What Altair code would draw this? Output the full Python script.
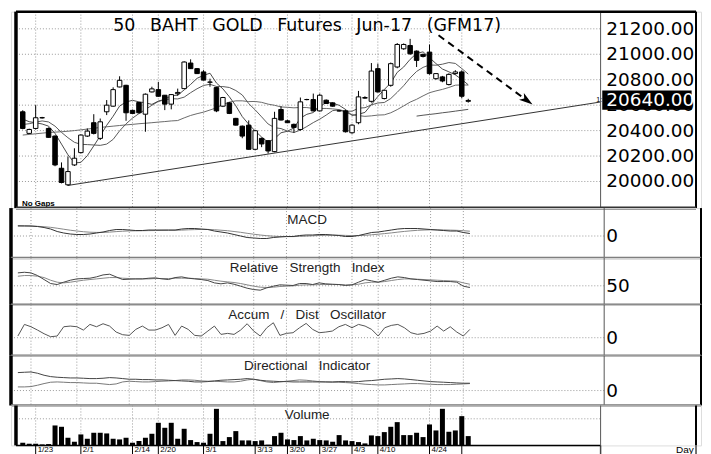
import altair as alt
import pandas as pd

# ---------------- data ----------------
dates = ["1/19", "1/20", "1/23", "1/24", "1/25", "1/26", "1/27", "1/30", "1/31",
         "2/1", "2/2", "2/3", "2/6", "2/7", "2/8", "2/9", "2/10", "2/14", "2/15", "2/16",
         "2/17", "2/20", "2/21", "2/22", "2/23", "2/24", "2/27", "2/28",
         "3/1", "3/2", "3/3", "3/6", "3/7", "3/8", "3/9", "3/10", "3/13", "3/14", "3/15",
         "3/16", "3/17", "3/20", "3/21", "3/22", "3/23", "3/24", "3/27", "3/28", "3/29",
         "3/30", "3/31",
         "4/3", "4/4", "4/5", "4/7", "4/10", "4/11", "4/12", "4/17", "4/18", "4/19", "4/20",
         "4/21", "4/24", "4/25", "4/26", "4/27", "4/28",
         "5/1", "5/2"]

opens = [20548, 20378, 20417, 20500, 20417, 20357, 20104, 19974, 20130, 20227,
         20357, 20462, 20339, 20548, 20592, 20743, 20756, 20559, 20621, 20529,
         20704, 20722, 20678, 20608, 20690, 20730, 20931, 20887, 20861, 20780,
         20738, 20592, 20618, 20496, 20435, 20443, 20253, 20339, 20321, 20235,
         20566, 20477, 20449, 20409, 20644, 20644, 20555, 20639, 20618, 20555,
         20555, 20383, 20462, 20655, 20630, 20887, 20652, 20756, 20900, 21043,
         21069, 21025, 20999, 21017, 20808, 20822, 20762, 20848, 20861, 20630]
highs = [20560, 20415, 20600, 20508, 20425, 20362, 20150, 20196, 20261, 20370,
         20417, 20529, 20495, 20640, 20740, 20827, 20760, 20565, 20625, 20692,
         20745, 20782, 20680, 20687, 20730, 20945, 20960, 20892, 20875, 20808,
         20745, 20665, 20625, 20500, 20440, 20480, 20405, 20345, 20325, 20548,
         20592, 20485, 20455, 20660, 20650, 20691, 20690, 20645, 20622, 20560,
         20565, 20450, 20712, 20670, 20931, 20926, 20720, 20935, 21088, 21085,
         21121, 21030, 21005, 21077, 20852, 20830, 20850, 20875, 20874, 20650]
lows = [20410, 20372, 20409, 20495, 20345, 20120, 19985, 19965, 20122, 20220,
        20350, 20370, 20326, 20522, 20588, 20740, 20477, 20530, 20535, 20391,
        20700, 20666, 20561, 20567, 20675, 20728, 20885, 20845, 20795, 20745,
        20545, 20585, 20530, 20440, 20340, 20250, 20245, 20270, 20220, 20230,
        20480, 20460, 20383, 20400, 20638, 20550, 20550, 20610, 20588, 20550,
        20385, 20375, 20450, 20650, 20620, 20700, 20645, 20745, 20890, 21035,
        20995, 20900, 20975, 20840, 20800, 20780, 20755, 20840, 20655, 20620]
closes = [20417, 20409, 20501, 20502, 20347, 20130, 19992, 20078, 20183, 20365,
          20396, 20378, 20469, 20600, 20722, 20795, 20540, 20535, 20540, 20686,
          20728, 20670, 20608, 20683, 20700, 20939, 20887, 20848, 20797, 20782,
          20555, 20660, 20535, 20443, 20357, 20253, 20399, 20295, 20240, 20496,
          20483, 20462, 20425, 20626, 20644, 20555, 20678, 20613, 20592, 20555,
          20391, 20443, 20665, 20660, 20868, 20704, 20717, 20926, 21077, 21077,
          21004, 20952, 20983, 20848, 20848, 20790, 20842, 20861, 20670, 20637]

ma_short = [20490, 20470, 20462, 20452, 20435, 20378, 20294, 20210, 20146, 20150,
            20203, 20280, 20358, 20442, 20513, 20593, 20625, 20638, 20626, 20619,
            20606, 20632, 20646, 20675, 20678, 20720, 20763, 20811, 20834, 20851,
            20774, 20728, 20666, 20595, 20510, 20450, 20397, 20349, 20309, 20337,
            20383, 20395, 20421, 20498, 20528, 20542, 20586, 20623, 20616, 20599,
            20566, 20519, 20529, 20543, 20605, 20668, 20723, 20775, 20858, 20900,
            20960, 21007, 21019, 20973, 20927, 20884, 20862, 20838, 20802, 20760]
ma_mid = [20448, 20454, 20466, 20476, 20468, 20435, 20386, 20344, 20308, 20292,
          20290, 20287, 20284, 20294, 20331, 20398, 20453, 20498, 20534, 20566,
          20599, 20629, 20642, 20651, 20649, 20663, 20698, 20729, 20755, 20764,
          20747, 20746, 20739, 20715, 20680, 20612, 20563, 20508, 20452, 20423,
          20416, 20396, 20385, 20404, 20432, 20463, 20490, 20522, 20557, 20563,
          20554, 20552, 20576, 20580, 20602, 20617, 20621, 20652, 20701, 20753,
          20814, 20865, 20897, 20916, 20914, 20922, 20935, 20928, 20888, 20844]
ma_long = [20365, 20370, 20375, 20380, 20385, 20388, 20391, 20395, 20400, 20406,
           20412, 20418, 20425, 20430, 20435, 20440, 20445, 20449, 20454, 20458,
           20462, 20467, 20471, 20476, 20479, 20500, 20519, 20533, 20545, 20562,
           20579, 20606, 20624, 20634, 20634, 20628, 20629, 20622, 20608, 20599,
           20586, 20583, 20579, 20582, 20581, 20574, 20574, 20574, 20571, 20565,
           20543, 20525, 20518, 20512, 20516, 20522, 20524, 20540, 20565, 20594,
           20624, 20646, 20673, 20698, 20712, 20724, 20739, 20757, 20759, 20758]
ma_extra_dates = ["4/20", "4/21", "4/24", "4/25", "4/26", "4/27", "4/28", "5/1", "5/2"]
ma_extra = [20514, 20521, 20527, 20533, 20540, 20546, 20553, 20560, 20567]

volume = [80, 50, 50, 30, 40, 600, 560, 230, 110, 330,
          200, 380, 380, 360, 200, 180, 230, 80, 130, 230,
          350, 680, 530, 680, 200, 500, 160, 100, 80, 350,
          1100, 130, 250, 430, 150, 150, 130, 150, 20, 280,
          380, 180, 160, 280, 150, 200, 160, 150, 110, 310,
          150, 130, 100, 60, 300, 280, 400, 560, 700, 310,
          310, 380, 250, 630, 450, 1100, 410, 450, 880, 280]

macd = [100, 100, 100, 95, 85, 70, 45, 30, 20, 15,
        15, 20, 30, 40, 55, 65, 65, 60, 55, 55,
        60, 60, 60, 60, 60, 70, 75, 75, 70, 65,
        50, 40, 30, 15, 0, -15, -20, -25, -25, -15,
        -10, -5, -5, 5, 10, 10, 15, 15, 10, 5,
        -5, -5, 5, 20, 35, 40, 50, 60, 70, 75,
        75, 75, 70, 65, 60, 55, 50, 50, 35, 25]
macd_signal = [105, 103, 100, 97, 93, 87, 78, 68, 58, 50,
               43, 38, 36, 36, 39, 44, 48, 51, 52, 53,
               54, 55, 56, 57, 57, 59, 62, 64, 66, 66,
               63, 58, 53, 45, 37, 27, 18, 10, 3, -2,
               -5, -6, -6, -4, -1, 2, 5, 7, 8, 8,
               6, 4, 4, 7, 12, 18, 24, 31, 39, 46,
               52, 57, 60, 62, 62, 61, 59, 57, 53, 48]

rsi = [70.4, 71.4, 70.4, 66.2, 59.9, 53.6, 52.0, 55.7, 58.8, 60.9,
       61.5, 62.0, 64.1, 67.2, 68.3, 64.1, 59.9, 60.4, 60.9, 60.9,
       62.0, 62.5, 60.9, 59.9, 63.0, 64.1, 62.0, 60.9, 59.9, 58.3,
       54.6, 53.1, 54.6, 52.5, 49.4, 46.2, 44.1, 43.1, 46.8, 49.4,
       51.5, 51.0, 50.5, 53.6, 53.6, 52.0, 54.6, 53.1, 52.5, 52.0,
       50.5, 51.5, 55.7, 59.9, 57.8, 55.7, 58.8, 62.0, 64.1, 63.0,
       60.9, 59.9, 58.8, 57.8, 56.7, 56.7, 56.7, 55.7, 49.4, 47.3]
rsi_avg = [65.1, 66.2, 66.2, 65.1, 63.0, 58.8, 55.7, 54.6, 55.7, 57.3,
           58.8, 59.9, 60.9, 62.0, 63.0, 63.0, 62.0, 61.5, 60.9, 60.9,
           60.9, 61.5, 61.5, 61.5, 62.0, 62.0, 62.0, 61.5, 60.9, 60.4,
           58.8, 57.3, 56.2, 55.2, 53.6, 51.5, 49.4, 47.8, 47.3, 47.8,
           48.9, 49.4, 49.9, 51.0, 51.5, 51.5, 52.0, 52.0, 52.0, 52.0,
           51.5, 51.5, 52.5, 54.6, 55.7, 55.7, 56.7, 58.3, 59.9, 60.9,
           60.9, 60.4, 59.9, 59.4, 58.8, 58.3, 57.8, 57.3, 54.6, 52.5]

ad_osc = [10, 80, 66, 46, 24, 6, 10, 66, 70, 66,
          46, 80, 66, 84, 70, 34, 18, 14, 50, 70,
          46, 46, 60, 80, 14, 70, 50, 14, 10, 40,
          70, 20, 26, 20, 46, 84, 40, 10, 60, 90,
          14, 26, 30, 60, 86, 50, 30, 34, 40, 66,
          80, 60, 80, 70, 50, 10, 60, 74, 80, 60,
          30, 20, 26, 40, 70, 40, 66, 34, 10, 50]

di_upper = [36, 36.7, 37.3, 34.7, 30.7, 28, 26.7, 26, 25.3, 25.3,
            24.7, 24, 24, 24.7, 26, 25.3, 24, 22.7, 22.7, 22,
            22, 21.3, 21.3, 20.7, 20, 19.3, 18.7, 17.3, 17.3, 18,
            19.3, 20.7, 21.3, 22, 22.7, 24, 22.7, 20.7, 19.3, 18.7,
            18, 18, 17.3, 17.3, 17.3, 17.3, 17.3, 17.3, 17.3, 18,
            18, 17.3, 18, 19.3, 20, 21.3, 22.7, 23.3, 24, 23.3,
            22, 20.7, 19.3, 18, 17.3, 16.7, 16, 15.3, 14.7, 14.7]
di_lower = [7.3, 7.3, 8, 10.7, 14, 16.7, 17.3, 16.7, 16, 16,
            15.3, 14.7, 14.7, 13.3, 12, 13.3, 17.3, 18.7, 18, 17.3,
            17.3, 18, 18.7, 19.3, 20, 21.3, 21.3, 20.7, 19.3, 18.7,
            18.7, 18, 17.3, 17.3, 18.7, 21.3, 22.7, 20, 17.3, 16,
            17.3, 18.7, 20, 21.3, 20.7, 19.3, 18, 17.3, 16.7, 16.7,
            16, 15.3, 14, 12.7, 12, 11.3, 11.3, 12, 12.7, 13.3,
            14, 14, 13.3, 12.7, 12, 12, 12, 12.7, 13.3, 14]

price_ticks = [20000, 20200, 20400, 20600, 20800, 21000, 21200]
last_price = 20640
tick_dates = ["1/23", "2/1", "2/14", "2/20", "3/1", "3/13", "3/20", "3/27", "4/3", "4/10", "4/24"]
grid_dates = tick_dates + ["5/1"]
month_names = ["Jan", "Feb", "Mar", "Apr", "May"]
month_first = ["1/19", "2/1", "3/1", "4/3", "5/1"]
trend_days = [7, 89.5]
trend_prices = [19969, 20625]
arrow_days = [64.4, 78.1]
arrow_prices = [21149, 20637]

title_words = ["50", "BAHT", "GOLD", "Futures", "Jun-17", "(GFM17)"]

# ---------------- layout constants ----------------
W = 692
H_PRICE, H_MACD, H_RSI, H_AD, H_DI, H_VOL = 197, 50, 47, 51, 50, 40
X_LEFT, X_AXIS, X_RIGHT = -1.05, 89.5, 104.28
LABEL_X = 597
LABEL_FONT = "DejaVu Sans"
PANEL_FONT = "Liberation Sans"

day_of = {d: i for i, d in enumerate(dates)}
df = pd.DataFrame({
    "day": list(range(len(dates))), "date": dates,
    "open": opens, "high": highs, "low": lows, "close": closes,
    "ma_short": ma_short, "ma_mid": ma_mid, "ma_long": ma_long,
    "volume": volume, "macd": macd, "macd_signal": macd_signal,
    "rsi": rsi, "rsi_avg": rsi_avg, "ad": ad_osc,
    "di_up": di_upper, "di_down": di_lower,
})
df["dir"] = ["up" if c >= o else "down" for o, c in zip(opens, closes)]

xs = alt.Scale(domain=[X_LEFT, X_RIGHT], nice=False, zero=False)


def xenc(field="day"):
    return alt.X(f"{field}:Q", scale=xs, axis=None)


GRID = dict(color="#9a9a9a", strokeDash=[1, 2], strokeWidth=1)

vgrid_df = pd.DataFrame({"day": [day_of[d] for d in grid_dates]})


def vgrid():
    return alt.Chart(vgrid_df).mark_rule(**GRID).encode(x=xenc())


def hgrid(values, ys):
    d = pd.DataFrame({"v": values, "x0": X_LEFT, "x1": X_AXIS})
    return alt.Chart(d).mark_rule(**GRID).encode(
        x=alt.X("x0:Q", scale=xs, axis=None), x2="x1:Q",
        y=alt.Y("v:Q", scale=ys, axis=None))


def scale_labels(values, ys, fmt):
    d = pd.DataFrame({"v": values, "t": [format(v, fmt) for v in values]})
    return alt.Chart(d).mark_text(font=LABEL_FONT, fontSize=18.5, color="black",
                                  align="left", baseline="middle").encode(
        x=alt.value(LABEL_X), y=alt.Y("v:Q", scale=ys, axis=None), text="t:N")


def frame(h, bottom_color="#777", bottom_width=2.5, top=False):
    """Panel borders: left thick edge, price-scale separator, right edge and bottom separator."""
    layers = [
        alt.Chart(pd.DataFrame({"day": [X_AXIS]})).mark_rule(color="#555", strokeWidth=1).encode(x=xenc()),
        alt.Chart(pd.DataFrame({"day": [X_RIGHT]})).mark_rule(color="black", strokeWidth=2).encode(x=xenc()),
        alt.Chart(pd.DataFrame({"day": [X_LEFT]})).mark_rule(color="black", strokeWidth=3.5).encode(x=xenc()),
        alt.Chart(pd.DataFrame({"day": [X_LEFT], "end": [X_RIGHT]})).mark_rule(
            color=bottom_color, strokeWidth=bottom_width).encode(
            x=xenc(), x2="end:Q", y=alt.value(h)),
    ]
    if top:
        layers.append(
            alt.Chart(pd.DataFrame({"day": [X_LEFT], "end": [X_RIGHT]})).mark_rule(
                color="black", strokeWidth=2.5).encode(x=xenc(), x2="end:Q", y=alt.value(0)))
    return layers


def line(field, ys, color, data=None, width=1, **kw):
    return alt.Chart(df if data is None else data).mark_line(
        color=color, strokeWidth=width, **kw).encode(
        x=xenc(), y=alt.Y(f"{field}:Q", scale=ys, axis=None))


def label(text, x, y, **kw):
    return alt.Chart(pd.DataFrame({"t": [text]})).mark_text(**kw).encode(
        text="t:N", x=alt.value(x), y=alt.value(y))


def panel_title(text, y):
    return label(text, 297, y, font=PANEL_FONT, fontSize=13.5, color="#222",
                 align="center", baseline="alphabetic")


# ---------------- price panel ----------------
ys_price = alt.Scale(domain=[19791, 21335], nice=False, zero=False)

wick = alt.Chart(df).mark_rule(color="black", strokeWidth=1).encode(
    x=xenc(), y=alt.Y("low:Q", scale=ys_price, axis=None), y2="high:Q")
body = alt.Chart(df).mark_bar(size=4.5, stroke="black", strokeWidth=1).encode(
    x=xenc(), y=alt.Y("open:Q", scale=ys_price, axis=None), y2="close:Q",
    fill=alt.Fill("dir:N", scale=alt.Scale(domain=["up", "down"], range=["white", "black"]), legend=None))

extra_df = pd.DataFrame({"day": [day_of[d] for d in ma_extra_dates], "v": ma_extra})
trend_df = pd.DataFrame({"day": trend_days, "v": trend_prices})
arrow_df = pd.DataFrame({"day": arrow_days, "v": arrow_prices})
arrow_line = alt.Chart(arrow_df).mark_line(color="black", strokeWidth=2, strokeDash=[7, 5]).encode(
    x=xenc(), y=alt.Y("v:Q", scale=ys_price, axis=None))
arrow_head = alt.Chart(arrow_df.tail(1)).mark_point(
    shape="M0,-1L0.6,1L0,0.5L-0.6,1Z", angle=126, size=190, filled=True, color="black", opacity=1).encode(
    x=xenc(), y=alt.Y("v:Q", scale=ys_price, axis=None))

last_df = pd.DataFrame({"x0": [89.76], "x1": [103.6], "p0": [last_price - 76], "p1": [last_price + 76],
                        "p": [last_price], "t": [f"{last_price:.2f}"]})
last_box = alt.Chart(last_df).mark_rect(color="black").encode(
    x=alt.X("x0:Q", scale=xs, axis=None), x2="x1:Q",
    y=alt.Y("p0:Q", scale=ys_price, axis=None), y2="p1:Q")
last_text = alt.Chart(last_df).mark_text(color="white", font=LABEL_FONT, fontSize=18.5,
                                         align="left", baseline="middle").encode(
    x=alt.value(LABEL_X), y=alt.Y("p:Q", scale=ys_price, axis=None), text="t:N")

SEP = "\u00a0\u00a0\u2009"
price_panel = alt.layer(
    vgrid(),
    hgrid(price_ticks, ys_price),
    scale_labels(price_ticks, ys_price, ".2f"),
    line("v", ys_price, "#333", data=trend_df),
    line("ma_long", ys_price, "#6a6a6a"),
    line("ma_mid", ys_price, "#5a5a5a"),
    line("ma_short", ys_price, "#4a4a4a"),
    line("v", ys_price, "#555", data=extra_df),
    wick, body,
    arrow_line, arrow_head,
    last_box, last_text,
    label(SEP.join(title_words), 297, 19, font=LABEL_FONT, fontSize=17.5, color="black",
          align="center", baseline="alphabetic"),
    label("No Gaps", 11, 195, font=PANEL_FONT, fontSize=8, fontWeight="bold", color="black",
          align="left", baseline="alphabetic"),
    label("1:", 587, 89, font=PANEL_FONT, fontSize=7, color="black", align="left", baseline="middle"),
    *frame(H_PRICE, bottom_color="#333", bottom_width=3, top=True),
).properties(width=W, height=H_PRICE)

# ---------------- MACD ----------------
ys_macd = alt.Scale(domain=[-220, 280], nice=False, zero=False)
macd_panel = alt.layer(
    vgrid(),
    hgrid([0], ys_macd),
    scale_labels([0], ys_macd, "d"),
    line("macd_signal", ys_macd, "#888"),
    line("macd", ys_macd, "#333"),
    panel_title("MACD", 16),
    *frame(H_MACD),
).properties(width=W, height=H_MACD)

# ---------------- RSI ----------------
ys_rsi = alt.Scale(domain=[20, 94], nice=False, zero=False)
NB = "\u00a0\u00a0\u00a0"
rsi_panel = alt.layer(
    vgrid(),
    hgrid([50], ys_rsi),
    scale_labels([50], ys_rsi, "d"),
    line("rsi_avg", ys_rsi, "#888"),
    line("rsi", ys_rsi, "#444"),
    panel_title(NB.join(["Relative", "Strength", "Index"]), 14),
    *frame(H_RSI),
).properties(width=W, height=H_RSI)

# ---------------- A/D oscillator ----------------
ys_ad = alt.Scale(domain=[-108, 198], nice=False, zero=False)
ad_panel = alt.layer(
    vgrid(),
    hgrid([0], ys_ad),
    scale_labels([0], ys_ad, "d"),
    line("ad", ys_ad, "#555"),
    panel_title(NB.join(["Accum", "/", "Dist", "Oscillator"]), 14.5),
    *frame(H_AD),
).properties(width=W, height=H_AD)

# ---------------- Directional indicator ----------------
ys_di = alt.Scale(domain=[-30, 70], nice=False, zero=False)
di_panel = alt.layer(
    vgrid(),
    hgrid([0], ys_di),
    scale_labels([0], ys_di, "d"),
    line("di_down", ys_di, "#777"),
    line("di_up", ys_di, "#444"),
    panel_title(NB.join(["Directional", "Indicator"]), 14),
    *frame(H_DI),
).properties(width=W, height=H_DI)

# ---------------- Volume ----------------
ys_vol = alt.Scale(domain=[0, 1200], nice=False, zero=True)
ticks_df = pd.DataFrame({"day": [day_of[d] for d in tick_dates], "t": tick_dates})
month_df = pd.DataFrame({"day": [day_of[d] for d in month_first], "t": month_names})
tick_rules_df = pd.DataFrame({"day": [day_of[d] for d in grid_dates]})

vol_bars = alt.Chart(df).mark_bar(size=5, color="black").encode(
    x=xenc(), y=alt.Y("volume:Q", scale=ys_vol, axis=None))
tick_rules = alt.Chart(tick_rules_df).mark_rule(color="black", strokeWidth=1).encode(
    x=xenc(), y=alt.value(H_VOL), y2=alt.value(H_VOL + 14))
tick_text = alt.Chart(ticks_df).mark_text(align="left", baseline="top", dx=2, fontSize=8,
                                          font=PANEL_FONT, color="black").encode(
    x=xenc(), y=alt.value(H_VOL + 1), text="t:N")
month_text = alt.Chart(month_df).mark_text(align="left", baseline="top", dx=2, fontSize=8,
                                           font=PANEL_FONT, color="black").encode(
    x=xenc(), y=alt.value(H_VOL + 10), text="t:N")
right_ext = alt.Chart(pd.DataFrame({"day": [X_AXIS, X_RIGHT]})).mark_rule(color="#444", strokeWidth=1.5).encode(
    x=xenc(), y=alt.value(H_VOL), y2=alt.value(H_VOL + 14))
axis_line = alt.Chart(pd.DataFrame({"day": [X_LEFT], "end": [X_AXIS]})).mark_rule(
    color="black", strokeWidth=1.5).encode(x=xenc(), x2="end:Q", y=alt.value(H_VOL))

vol_layers = frame(H_VOL)[:3]
vol_panel = alt.layer(
    vgrid(),
    hgrid([800], ys_vol),
    vol_bars,
    panel_title("Volume", 14),
    tick_rules, tick_text, month_text, right_ext, axis_line,
    label("Day", 667, 48, font=PANEL_FONT, fontSize=10, color="black", align="left", baseline="alphabetic"),
    *vol_layers,
).properties(width=W, height=H_VOL)

chart = alt.vconcat(
    price_panel, macd_panel, rsi_panel, ad_panel, di_panel, vol_panel, spacing=0, bounds="flush"
).resolve_scale(
    x="independent", y="independent", fill="independent"
).properties(
    padding={"left": 0, "top": 0, "right": 0, "bottom": 0}
).configure_view(
    stroke=None
).configure(background="white")

chart.save("out.html", embed_options={"renderer": "svg", "actions": False})
